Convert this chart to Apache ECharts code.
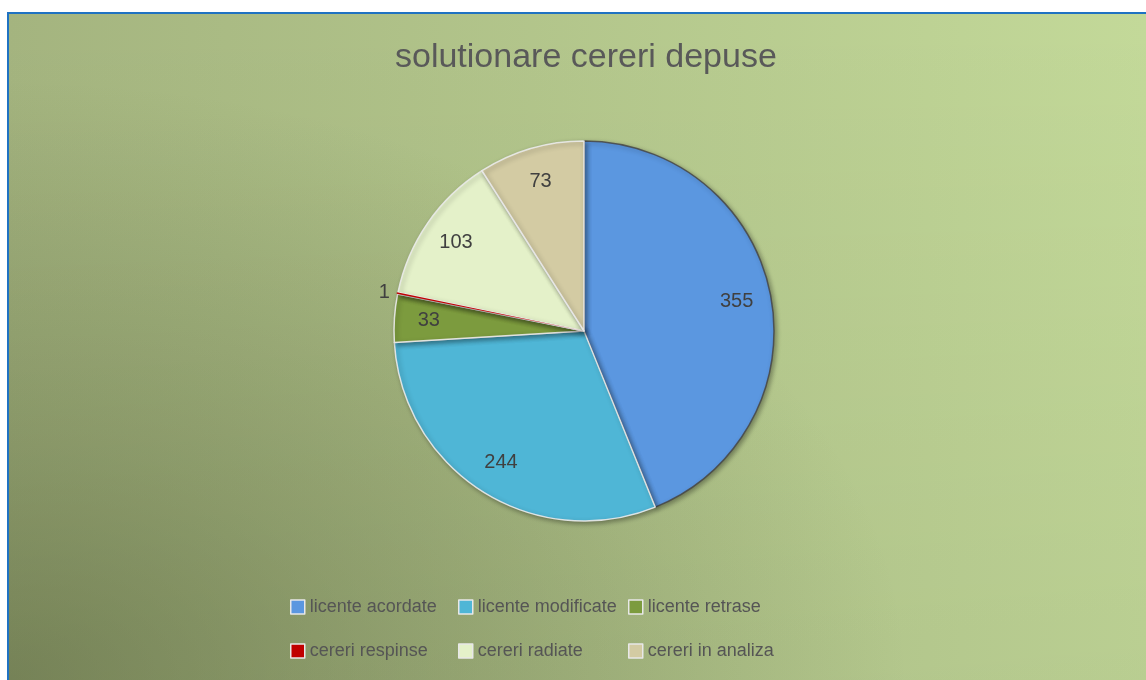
<!DOCTYPE html>
<html>
    <head>
        <meta charset="utf-8">
        <title>solutionare cereri depuse</title>
        <script src="https://cdn.jsdelivr.net/npm/echarts@6/dist/echarts.min.js"></script>
        <style>
            body { margin: 0; background: #fff; }
            #main {
                position: absolute; left: 7px; top: 12px;
                width: 1137px; height: 666px;
                border-left: 2px solid #1f72c2; border-top: 2px solid #1f72c2;
                background:
                    radial-gradient(ellipse 900px 600px at 0% 100%,
                        rgba(70,80,45,0.45) 0%, rgba(70,80,45,0.25) 40%, rgba(70,80,45,0) 100%),
                    linear-gradient(to bottom, rgba(0,0,0,0), rgba(0,0,0,0.05)),
                    linear-gradient(to right, #a4b47f, #c3d999);
            }
        </style>
    </head>
    <body>
        <div id="main"></div>
        <script type="text/javascript">
            // date
            var categorii = ['licente acordate', 'licente modificate', 'licente retrase',
                             'cereri respinse', 'cereri radiate', 'cereri in analiza'];
            var valori = [355, 244, 33, 1, 103, 73];
            var culori = ['#5b97e0', '#4fb6d6', '#7c9b3e', '#c00000', '#e4f1c9', '#d3cba3'];

            var mychart = echarts.init(document.getElementById('main'));

            var dateFelii = categorii.map(function(c, i) {
                var d = { name: c, value: valori[i], itemStyle: { color: culori[i] } };
                if (i === 0) {
                    d.itemStyle.borderColor = 'rgba(70,70,70,0.85)';
                }
                return d;
            });
            // inel transparent doar pentru etichete (mai aproape de margine)
            var dateEtichete = categorii.map(function(c, i) {
                var d = { name: c, value: valori[i], itemStyle: { color: 'rgba(0,0,0,0)' } };
                if (valori[i] < 5) {
                    d.label = { position: 'outside' };
                }
                return d;
            });
            // felia foarte mica (1) redesenata deasupra marginilor vecine
            var dateFeliiMici = categorii.map(function(c, i) {
                return { name: c, value: valori[i],
                         itemStyle: { color: valori[i] < 5 ? culori[i] : 'rgba(0,0,0,0)' } };
            });

            function legenda(idx, left) {
                return {
                    orient: 'vertical',
                    left: left,
                    top: 579,
                    itemGap: 26,
                    icon: 'rect',
                    itemWidth: 14,
                    itemHeight: 14,
                    itemStyle: { borderColor: '#e8e8e8', borderWidth: 1.5 },
                    data: idx.map(function(i) { return categorii[i]; }),
                    textStyle: { fontSize: 18, color: '#555', fontFamily: 'Liberation Sans' }
                };
            }

            var option = {
                backgroundColor: 'transparent',
                title: {
                    text: 'solutionare cereri depuse',
                    left: 381,
                    top: 22,
                    textStyle: {
                        color: '#595959',
                        fontSize: 34,
                        fontWeight: 'normal',
                        fontFamily: 'Liberation Sans'
                    }
                },
                legend: [
                    legenda([0, 3], 276),
                    legenda([1, 4], 444),
                    legenda([2, 5], 614)
                ],
                series: [
                    {
                        name: 'solutionare',
                        type: 'pie',
                        center: [575, 317],
                        radius: [0, 190],
                        startAngle: 90,
                        clockwise: true,
                        label: { show: false },
                        labelLine: { show: false },
                        itemStyle: {
                            borderColor: 'rgba(235,235,235,0.9)',
                            borderWidth: 1.5,
                            shadowColor: 'rgba(0,0,0,0.35)',
                            shadowBlur: 5,
                            shadowOffsetX: 2,
                            shadowOffsetY: 2
                        },
                        emphasis: { scale: false },
                        data: dateFelii
                    },
                    {
                        name: 'felii mici',
                        type: 'pie',
                        silent: true,
                        legendHoverLink: false,
                        center: [575, 317],
                        radius: [0, 191],
                        startAngle: 90,
                        clockwise: true,
                        label: { show: false },
                        labelLine: { show: false },
                        itemStyle: { borderWidth: 0 },
                        data: dateFeliiMici
                    },
                    {
                        name: 'etichete',
                        type: 'pie',
                        silent: true,
                        legendHoverLink: false,
                        center: [575, 317],
                        radius: [115, 190],
                        startAngle: 90,
                        clockwise: true,
                        avoidLabelOverlap: false,
                        label: {
                            show: true,
                            position: 'inside',
                            formatter: '{c}',
                            fontSize: 20,
                            color: '#404040',
                            fontFamily: 'Liberation Sans'
                        },
                        labelLine: { show: false, length: 3, length2: 0 },
                        data: dateEtichete
                    }
                ]
            };
            mychart.setOption(option);
        </script>
    </body>
</html>
